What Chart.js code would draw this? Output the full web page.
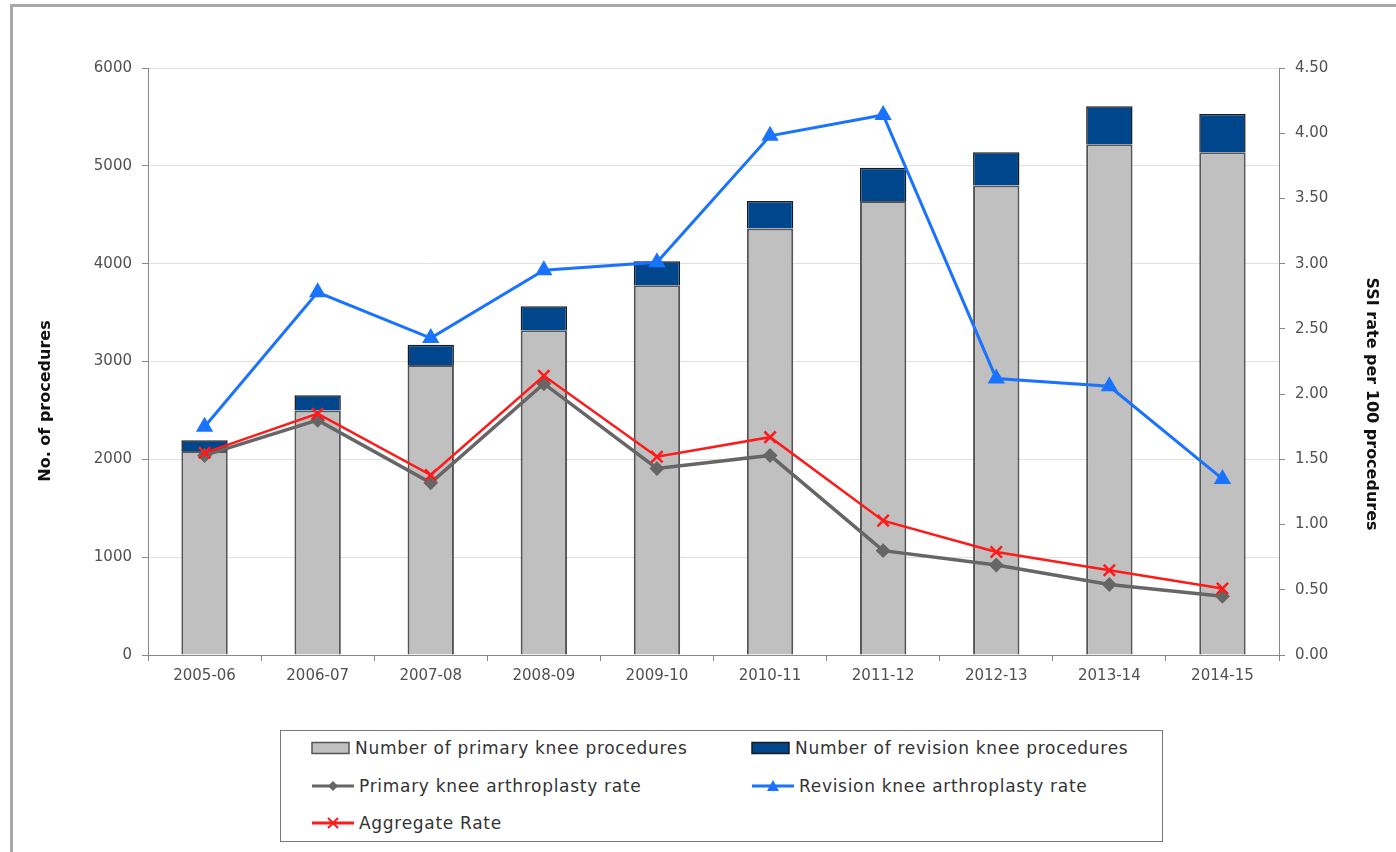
<!DOCTYPE html>
<html>
<head>
<meta charset="utf-8">
<script src="https://cdn.jsdelivr.net/npm/chart.js@4.4.0/dist/chart.umd.min.js"></script>
<style>
  body { margin: 0; background: #fff; font-family: "DejaVu Sans", sans-serif; }
  #frame { position: absolute; left: 10px; top: 4px; width: 1500px; height: 1000px;
           border-left: 3px solid #a8a8a8; border-top: 3px solid #a8a8a8; }
  #myChart { position: absolute; left: 0; top: 0; }
  #legenda { position: absolute; left: 280px; top: 730px; width: 883px; height: 112px;
             border: 1.5px solid #777; box-sizing: border-box; }
  .voce { position: absolute; display: flex; align-items: center; font-size: 17px;
          letter-spacing: 0.7px; color: #333; white-space: nowrap; }
  .voce svg { margin-right: 4px; }
</style>
</head>
<body>
<div id="frame"></div>
<canvas id="myChart" width="1396" height="700"></canvas>
<div id="legenda"></div>

<script>

var anni = ["2005-06", "2006-07", "2007-08", "2008-09", "2009-10", "2010-11", "2011-12", "2012-13", "2013-14", "2014-15"];

// numero di procedure (asse sinistro)
var primarie = [2085, 2500, 2965, 3320, 3780, 4360, 4640, 4800, 5220, 5140];
var revisioni = [110, 155, 205, 245, 245, 280, 340, 340, 390, 390];

// tassi SSI per 100 procedure (asse destro)
var tassoPrimarie = [1.53, 1.80, 1.32, 2.08, 1.43, 1.53, 0.80, 0.69, 0.54, 0.45];
var tassoRevisioni = [1.75, 2.78, 2.43, 2.95, 3.01, 3.98, 4.14, 2.12, 2.06, 1.35];
var tassoAggregato = [1.55, 1.85, 1.38, 2.14, 1.52, 1.67, 1.03, 0.79, 0.65, 0.51];

var tickSinistra = [0, 1000, 2000, 3000, 4000, 5000, 6000];

var titoloSinistra = 'No. of procedures';
var titoloDestra = 'SSI rate per 100 procedures';

var grigio = "#c0c0c0";
var blu = "#00468c";
var grigioLinea = "#666666";
var azzurro = "#1a73ff";
var rosso = "#ff1a1a";

var fontTick = { family: "DejaVu Sans", size: 15 };

// i titoli degli assi nell'originale sono un po' piu' in basso del centro
var titoliAssi = {
  id: 'titoliAssi',
  afterDraw: function(chart) {
    var c = chart.ctx;
    c.save();
    c.font = "bold 16px 'DejaVu Sans'";
    c.fillStyle = "#111";
    c.textAlign = "center";
    c.textBaseline = "middle";

    c.save();
    c.translate(46, 401);
    c.rotate(-Math.PI / 2);
    c.fillText(titoloSinistra, 0, 0);
    c.restore();

    c.save();
    c.translate(1371, 404);
    c.rotate(Math.PI / 2);
    c.fillText(titoloDestra, 0, 0);
    c.restore();

    c.restore();
  }
};

function disegnaGrafico() {

  var ctx = document.getElementById('myChart').getContext('2d');
  var myChart = new Chart(ctx, {
    type: 'bar',
    data: {
      labels: anni,
      datasets: [
        {
          type: 'line',
          label: 'Aggregate Rate',
          data: tassoAggregato,
          yAxisID: 'y1',
          borderColor: rosso,
          backgroundColor: rosso,
          borderWidth: 2.5,
          pointStyle: 'crossRot',
          pointRadius: 8,
          pointBorderWidth: 2.5,
          order: 0
        },
        {
          type: 'line',
          label: 'Primary knee arthroplasty rate',
          data: tassoPrimarie,
          yAxisID: 'y1',
          borderColor: grigioLinea,
          backgroundColor: grigioLinea,
          borderWidth: 3.5,
          pointStyle: 'rectRot',
          pointRadius: 5,
          order: 1
        },
        {
          type: 'line',
          label: 'Revision knee arthroplasty rate',
          data: tassoRevisioni,
          yAxisID: 'y1',
          borderColor: azzurro,
          backgroundColor: azzurro,
          borderWidth: 3,
          pointStyle: 'triangle',
          pointRadius: 7,
          order: 2
        },
        {
          label: 'Number of primary knee procedures',
          data: primarie,
          yAxisID: 'y',
          backgroundColor: grigio,
          borderColor: "#555555",
          borderWidth: 2,
          order: 3
        },
        {
          label: 'Number of revision knee procedures',
          data: revisioni,
          yAxisID: 'y',
          backgroundColor: blu,
          borderColor: "#1a1a1a",
          borderWidth: 1.5,
          order: 3
        }
      ]
    },
    options: {
      responsive: false,
      animation: false,
      layout: { padding: { top: 68, left: 0, right: 0, bottom: 0 } },
      plugins: { legend: { display: false }, tooltip: { enabled: false } },
      datasets: { bar: { categoryPercentage: 1, barPercentage: 0.41 } },
      scales: {
        x: {
          stacked: true,
          afterFit: function(scale) { scale.height = 45; },
          border: { display: true, color: "#888" },
          grid: { offset: true, drawOnChartArea: false, tickLength: 6, color: "#888" },
          ticks: { padding: 6, color: "#505050", font: fontTick }
        },
        y: {
          stacked: true,
          position: 'left',
          min: 0,
          max: 6000,
          afterFit: function(scale) { scale.width = 148; },
          afterBuildTicks: function(scale) {
            scale.ticks = tickSinistra.map(function(v) { return { value: v }; });
          },
          border: { display: true, color: "#888" },
          grid: { color: "#e0e0e0", tickColor: "#888", tickLength: 6 },
          ticks: {
            padding: 10,
            color: "#505050",
            font: fontTick,
            callback: function(v) { return String(v); }
          }
        },
        y1: {
          position: 'right',
          min: 0,
          max: 4.5,
          afterFit: function(scale) { scale.width = 117; },
          border: { display: true, color: "#888" },
          grid: { drawOnChartArea: false, color: "#888", tickLength: 6 },
          ticks: {
            stepSize: 0.5,
            padding: 10,
            color: "#505050",
            font: fontTick,
            callback: function(v) { return Number(v).toFixed(2); }
          }
        }
      }
    },
    plugins: [titoliAssi]
  });

  return myChart;
}

function iconaBarra(colore, bordo) {
  return '<svg width="40" height="14"><rect x="1" y="1.5" width="37" height="11" fill="' + colore +
    '" stroke="' + bordo + '" stroke-width="1.5"/></svg>';
}

function iconaLinea(colore, stile) {
  var s = '<svg width="44" height="16"><line x1="1" y1="8" x2="43" y2="8" stroke="' + colore + '" stroke-width="3"/>';
  if (stile == 'rombo') {
    s += '<polygon points="22,3 27,8 22,13 17,8" fill="' + colore + '"/>';
  } else if (stile == 'triangolo') {
    s += '<polygon points="22,2 28,13 16,13" fill="' + colore + '"/>';
  } else {
    s += '<path d="M17,3 L27,13 M27,3 L17,13" stroke="' + colore + '" stroke-width="2"/>';
  }
  return s + '</svg>';
}

function creaLegenda() {
  var voci = [
    { testo: 'Number of primary knee procedures', icona: iconaBarra(grigio, "#555555"), x: 30, y: 17 },
    { testo: 'Number of revision knee procedures', icona: iconaBarra(blu, "#1a1a1a"), x: 470, y: 17 },
    { testo: 'Primary knee arthroplasty rate', icona: iconaLinea(grigioLinea, 'rombo'), x: 30, y: 55 },
    { testo: 'Revision knee arthroplasty rate', icona: iconaLinea(azzurro, 'triangolo'), x: 470, y: 55 },
    { testo: 'Aggregate Rate', icona: iconaLinea(rosso, 'croce'), x: 30, y: 92 }
  ];

  var box = document.getElementById('legenda');
  for (var i = 0; i < voci.length; i++) {
    var v = voci[i];
    var el = document.createElement('div');
    el.className = 'voce';
    el.style.left = v.x + 'px';
    el.style.top = (v.y - 10) + 'px';
    el.innerHTML = v.icona + '<span>' + v.testo + '</span>';
    box.appendChild(el);
  }
}

disegnaGrafico();
creaLegenda();

</script>
</body>
</html>
